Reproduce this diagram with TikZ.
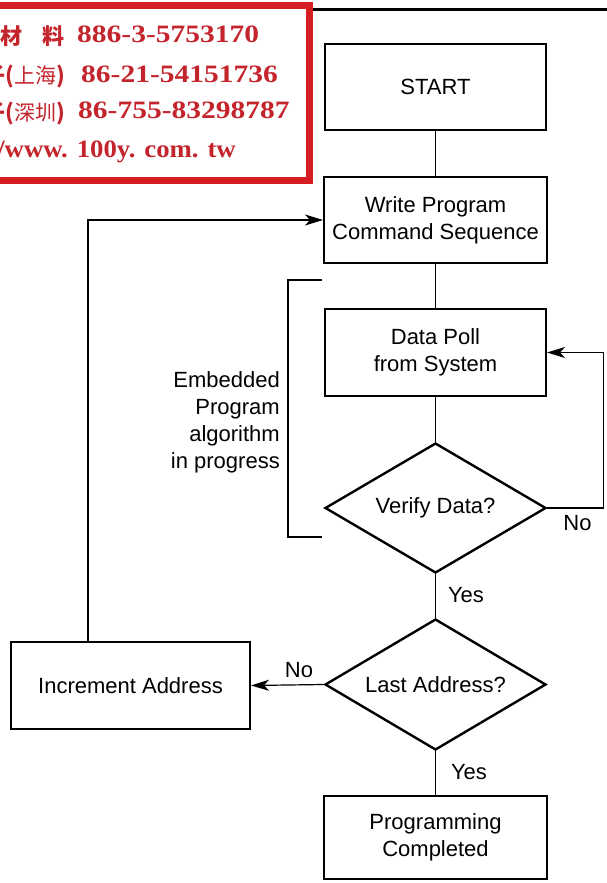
\documentclass[tikz,border=0pt]{standalone}
\usepackage{fontspec}
\usepackage{graphicx}
\setmainfont{Liberation Sans}
\newfontfamily\cjk{Noto Sans CJK TC}
\newfontfamily\stampfont{Liberation Serif}
\usetikzlibrary{shapes.geometric,arrows.meta}
\definecolor{stampred}{RGB}{214,30,34}
\definecolor{stamptext}{RGB}{196,36,44}
\begin{document}
\begin{tikzpicture}[x=1pt,y=-1pt,
  txt/.style={font=\fontsize{22}{27}\selectfont},
  box/.style={draw, line width=2.4pt, rectangle, inner sep=0pt, align=center, txt},
  dia/.style={draw, line width=2.4pt, diamond, aspect=1.7, inner sep=0pt, txt},
  conn/.style={line width=1.2pt},
  arr/.style={conn, -{Stealth[length=18pt,width=11pt,inset=5pt]}},
  lbl/.style={txt, inner sep=0pt},
  stampnum/.style={text=stamptext, inner sep=0pt, font=\stampfont\bfseries\fontsize{25}{25}\selectfont},
  stampcjk/.style={text=stamptext, inner sep=0pt, font=\cjk\bfseries\fontsize{22}{22}\selectfont}
]
\useasboundingbox (0,0) rectangle (607,883);

% stamp in the top-left corner
\begin{scope}
\clip (0,0) rectangle (607,883);
\draw[stampred, line width=7pt] (-20,5.5) rectangle (309,180.5);
\node[stampcjk, anchor=base west] (s1a) at (0.5,45) {材\hspace{20pt}料};
\node[stampnum, anchor=base west] (s1b) at (77,43) {\scalebox{1.18}[1]{886-3-5753170}};
\node[stampcjk, anchor=base east] (s2a) at (65,84) {子({\mdseries\fontsize{21}{21}\selectfont 上海})};
\node[stampnum, anchor=base west] (s2b) at (81,82) {\scalebox{1.18}[1]{86-21-54151736}};
\node[stampcjk, anchor=base east] (s3a) at (65,120) {子({\mdseries\fontsize{21}{21}\selectfont 深圳})};
\node[stampnum, anchor=base west] (s3b) at (78,118) {\scalebox{1.18}[1]{86-755-83298787}};
\node[stampnum, anchor=base east] (s4) at (236,157) {\scalebox{1.07}[1]{/www. 100y. com. tw}};
\end{scope}

% top rule
\draw[line width=3.5pt] (313,9.5) -- (607,9.5);

% flowchart nodes
\node[box, minimum width=220.6pt, minimum height=85.6pt] (start) at (435.5,87) {START};
\node[box, minimum width=222.6pt, minimum height=85.6pt] (write) at (435.5,220) {Write Program\\Command Sequence};
\node[box, minimum width=220.6pt, minimum height=86.6pt] (poll) at (435.5,352.5) {Data Poll\\from System};
\node[dia, minimum width=221pt, minimum height=130pt] (verify) at (435.5,508) {Verify Data?};
\node[dia, minimum width=221pt, minimum height=131pt] (last) at (435.5,684.5) {Last Address?};
\node[box, minimum width=238.6pt, minimum height=86.6pt] (incr) at (130.5,685.5) {Increment Address};
\node[box, minimum width=222.6pt, minimum height=82.6pt] (prog) at (435.5,837.5) {Programming\\Completed};

% bracket and its label
\coordinate (bt) at (322,280);
\coordinate (bb) at (322,537);
\draw[line width=2.4pt] (bt) -- (288,280) -- (288,537) -- (bb);
\node[lbl, anchor=east, align=right] (emb) at (280,422.5) {Embedded\\Program\\algorithm\\in progress};

% connectors
\draw[conn] (start) -- (write);
\draw[conn] (write) -- (poll);
\draw[conn] (poll) -- (verify);
\draw[conn] (verify) -- (last);
\draw[conn] (last) -- (prog);
\draw[arr] (verify.east) -- ++(56,0) |- (poll.east);
\draw[arr] (last.west) -- (incr.east);
\draw[arr] ([xshift=-42.5pt]incr.north) |- (write.west);

% labels
\node[lbl] (no1) at (577.5,523) {No};
\node[lbl] (yes1) at (466,595) {Yes};
\node[lbl] (no2) at (299,670) {No};
\node[lbl] (yes2) at (469,772) {Yes};
\end{tikzpicture}
\end{document}
